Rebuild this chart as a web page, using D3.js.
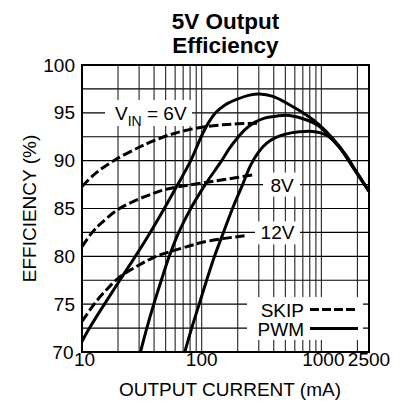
<!DOCTYPE html>
<html><head><meta charset="utf-8">
<script src="https://cdn.jsdelivr.net/npm/d3@7"></script>
<style>
html,body{margin:0;padding:0;background:#fff;}
svg{display:block;}
text{font-family:"Liberation Sans",Arial,Helvetica,sans-serif;fill:#000;}
</style></head>
<body>
<svg id="chart" width="405" height="405"></svg>
<script>
// ---- data ----
const titleLines = ["5V Output", "Efficiency"];
const xLabel = "OUTPUT CURRENT (mA)";
const yLabel = "EFFICIENCY (%)";
const xTicks = [10, 100, 1000, 2500];
const yTicks = [70, 75, 80, 85, 90, 95, 100];
const xGrid = [20,30,40,50,60,70,80,90,100,200,300,400,500,600,700,800,900,1000,2000];
const yGrid = [72.5,75,77.5,80,82.5,85,87.5,90,92.5,95,97.5];

// SKIP mode (dashed)
const skip6V  = [[10,87.3],[12,88.3],[14,89.0],[19,90.1],[30,91.4],[40,92.1],[54,92.7],[70,93.1],[100,93.5],[150,93.75],[200,93.85],[290,93.9]];
const skip8V  = [[10,81.0],[12,82.4],[14,83.3],[20,84.9],[30,86.0],[40,86.6],[50,87.0],[70,87.35],[100,87.65],[150,88.0],[265,88.5]];
const skip12V = [[10,73.2],[13,75.2],[16,76.5],[20,77.7],[30,79.1],[40,79.9],[55,80.5],[80,81.1],[100,81.45],[150,81.85],[228,82.15]];
// PWM mode (solid)
const pwm6V  = [[10,71.1],[11.55,72.5],[15.4,75],[20.7,77.5],[27.9,80],[37.2,82.5],[48.7,85],[63.1,87.5],[81,90],[99,92.5],[114.4,94],[130.8,95],[155.5,95.8],[195.7,96.4],[251,96.85],[304,96.97],[393,96.72],[541,95.85],[745,94.8],[960,93.75],[1240,92.35],[1600,90.6],[1950,88.9],[2500,86.8]];
const pwm8V  = [[30.8,70],[34.8,72.5],[39.8,75],[46,77.5],[53.6,80],[64.3,82.5],[81,85],[107,87.5],[147,90],[171,91.3],[199.5,92.4],[232.6,93.3],[276.5,94.0],[335,94.45],[430,94.68],[541,94.72],[746,94.28],[960,93.6],[1240,92.2],[1600,90.5],[1950,88.85],[2500,86.8]];
const pwm12V = [[72.2,70],[82.5,72.5],[95.3,75],[110,77.5],[128,80],[152,82.5],[181,85],[219.7,87.5],[256,89.5],[298.5,90.9],[348,91.8],[414,92.4],[511,92.8],[656,93.02],[841,93.06],[1094,92.7],[1413,91.45],[1600,90.45],[1950,88.8],[2500,86.8]];

const curveLabels = [
  {main:"V", sub:"IN", rest:" = 6V", at:95},
  {main:"8V", at:87.5},
  {main:"12V", at:82.5}
];
const legendItems = ["SKIP", "PWM"];

// ---- drawing ----
const svg = d3.select("#chart");
const x = d3.scaleLog().domain([10, 2500]).range([82, 369]);
const y = d3.scaleLinear().domain([70, 100]).range([352, 65]);

// title
svg.append("text").attr("x",225.5).attr("y",29).attr("text-anchor","middle")
  .attr("font-size",22.5).attr("font-weight","bold").text(titleLines[0]);
svg.append("text").attr("x",225.5).attr("y",52.5).attr("text-anchor","middle")
  .attr("font-size",22.5).attr("font-weight","bold").text(titleLines[1]);

// grid
const g = svg.append("g");
g.selectAll("line.hg").data(yGrid).join("line")
  .attr("x1",x(10)).attr("x2",x(2500)).attr("y1",d=>y(d)).attr("y2",d=>y(d))
  .attr("stroke","#000").attr("stroke-width",1.2);
g.selectAll("line.vg").data(xGrid).join("line")
  .attr("x1",d=>x(d)).attr("x2",d=>x(d)).attr("y1",y(70)).attr("y2",y(100))
  .attr("stroke","#222").attr("stroke-width",1.1);

// curve labels with white background
const lab = svg.append("g").attr("font-size",19);
lab.append("rect").attr("x",105).attr("y",100).attr("width",87).attr("height",26).attr("fill","#fff");
const t6 = lab.append("text").attr("x",115).attr("y",y(curveLabels[0].at)+7);
t6.append("tspan").text(curveLabels[0].main);
t6.append("tspan").attr("font-size",14).attr("dy",6).text(curveLabels[0].sub);
t6.append("tspan").attr("dy",-6).text(curveLabels[0].rest);
lab.append("rect").attr("x",263).attr("y",y(curveLabels[1].at)-12).attr("width",37).attr("height",24).attr("fill","#fff");
lab.append("text").attr("x",282).attr("y",y(curveLabels[1].at)+7).attr("text-anchor","middle").text(curveLabels[1].main);
lab.append("rect").attr("x",255).attr("y",y(curveLabels[2].at)-11).attr("width",45).attr("height",23).attr("fill","#fff");
lab.append("text").attr("x",277.5).attr("y",y(curveLabels[2].at)+7).attr("text-anchor","middle").text(curveLabels[2].main);

// legend
const lg = svg.append("g").attr("font-size",19);
lg.append("rect").attr("x",247).attr("y",297).attr("width",116).attr("height",43).attr("fill","#fff");
lg.append("text").attr("x",304).attr("y",316.5).attr("text-anchor","end").text(legendItems[0]);
lg.append("text").attr("x",304).attr("y",335.5).attr("text-anchor","end").text(legendItems[1]);
lg.append("line").attr("x1",310).attr("x2",358).attr("y1",309.5).attr("y2",309.5)
  .attr("stroke","#000").attr("stroke-width",3).attr("stroke-dasharray","9,3");
lg.append("line").attr("x1",310).attr("x2",358).attr("y1",328.5).attr("y2",328.5)
  .attr("stroke","#000").attr("stroke-width",3);

// curves
const line = d3.line().x(d=>x(d[0])).y(d=>y(d[1])).curve(d3.curveCatmullRom.alpha(0.5));
const cg = svg.append("g").attr("fill","none").attr("stroke","#000").attr("stroke-width",3)
  .attr("stroke-linejoin","round");
[skip6V, skip8V, skip12V].forEach(s=>{
  cg.append("path").attr("d",line(s)).attr("stroke-dasharray","9.5,3.5");
});
[pwm6V, pwm8V, pwm12V].forEach(s=>{
  cg.append("path").attr("d",line(s));
});

// plot border
svg.append("rect").attr("x",x(10)).attr("y",y(100)).attr("width",x(2500)-x(10)).attr("height",y(70)-y(100))
  .attr("fill","none").attr("stroke","#000").attr("stroke-width",2);

// tick labels
const tl = svg.append("g").attr("font-size",19);
tl.selectAll("text.yt").data(yTicks).join("text")
  .attr("x",d=>d===70?73.5:75).attr("y",d=>y(d)).attr("dy","0.35em").attr("text-anchor","end").text(d=>d);
tl.selectAll("text.xt").data(xTicks).join("text")
  .attr("x",d=>d===10?74:x(d)+(d===1000?2:0)).attr("y",366)
  .attr("text-anchor",d=>d===10?"start":"middle").text(d=>d);

// axis titles
svg.append("text").attr("x",230).attr("y",396).attr("text-anchor","middle").attr("font-size",19).text(xLabel);
svg.append("text").attr("transform","translate(36,208.5) rotate(-90)").attr("text-anchor","middle")
  .attr("font-size",19).text(yLabel);
</script>
</body></html>
